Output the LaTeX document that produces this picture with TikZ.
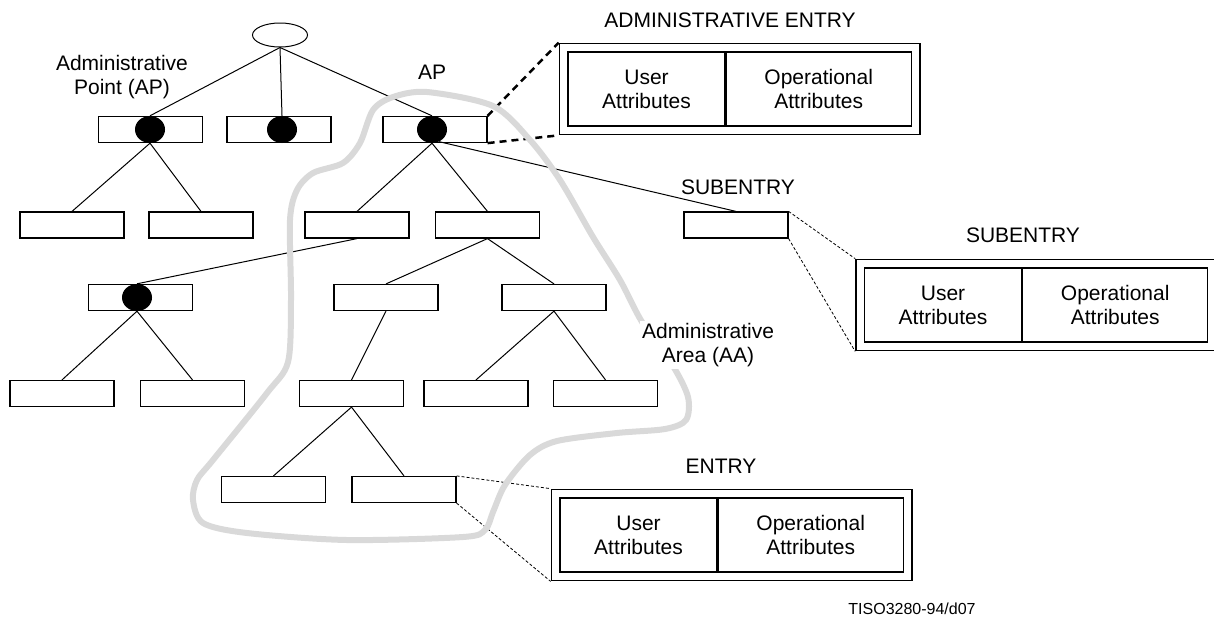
\documentclass[tikz,border=0pt]{standalone}
\usepackage{fontspec}
\setmainfont{Liberation Sans}
\usetikzlibrary{shapes.geometric,fit}
\definecolor{areagray}{RGB}{217,217,217}

\begin{document}
\begin{tikzpicture}[x=1pt, y=-1pt,
    every node/.style={font=\fontsize{21}{24}\selectfont},
    entrybox/.style={draw, rectangle, minimum width=104pt, minimum height=26pt, line width=1.2pt, inner sep=0pt},
    apdot/.style={fill=black, ellipse, minimum width=30pt, minimum height=27pt, inner sep=0pt},
    link/.style={line width=1pt},
    cellbox/.style={draw, rectangle, line width=1.2pt, minimum height=74pt, align=center, inner sep=0pt},
    framebox/.style={draw, rectangle, line width=1.5pt, inner sep=8pt},
    zoomline/.style={line width=2.5pt, dash pattern=on 7pt off 5pt},
    detailline/.style={line width=0.8pt, dash pattern=on 3pt off 2pt},
    arealine/.style={draw=areagray, line width=6pt}
]
    %--------------------%
    % Parameters
    %--------------------%
    \def\cellleft{157pt}
    \def\cellright{185pt}

    \useasboundingbox (0,0) rectangle (1214,619);

    %--------------------%
    % Root and Level 1
    %--------------------%
    \node[draw, ellipse, minimum width=55pt, minimum height=24pt, line width=1pt] (root) at (280,35) {};

    \node[entrybox] (apA) at (150.5,129.5) {};
    \node[entrybox] (apB) at (279,129.5) {};
    \node[entrybox] (apC) at (435,129.5) {};
    \node[apdot] (dotA) at (150,129.5) {};
    \node[apdot] (dotB) at (282,129.5) {};
    \node[apdot] (dotC) at (432,129.5) {};

    %--------------------%
    % Level 2
    %--------------------%
    \node[entrybox] (eA1) at (72,225) {};
    \node[entrybox] (eA2) at (201,225) {};
    \node[entrybox] (eC1) at (357,225) {};
    \node[entrybox] (eC2) at (487.5,225) {};
    \node[entrybox] (sub) at (736,225) {};

    %--------------------%
    % Level 3
    %--------------------%
    \node[entrybox] (apD) at (140.5,297.5) {};
    \node[apdot] (dotD) at (137,297.5) {};
    \node[entrybox] (eC21) at (386,297.5) {};
    \node[entrybox] (eC22) at (554,297.5) {};

    %--------------------%
    % Level 4 and 5
    %--------------------%
    \node[entrybox] (eD1) at (62,393.5) {};
    \node[entrybox] (eD2) at (192.5,393.5) {};
    \node[entrybox] (eX1) at (351.5,393.5) {};
    \node[entrybox] (eX2) at (476,393.5) {};
    \node[entrybox] (eX3) at (605.5,393.5) {};

    \node[entrybox] (eY1) at (273.5,489.5) {};
    \node[entrybox] (eY2) at (404,489.5) {};

    %--------------------%
    % Connections
    %--------------------%
    \draw[link] (root.south) -- (dotA.north);
    \draw[link] (root.south) -- (dotB.north);
    \draw[link] (root.south) -- (dotC.north);
    \draw[link] (dotA.south) -- (eA1.north);
    \draw[link] (dotA.south) -- (eA2.north);
    \draw[link] (dotC.south) -- (eC1.north);
    \draw[link] (dotC.south) -- (eC2.north);
    \draw[link] (dotC.-60) -- (sub.north);
    \draw[link] (eC1.south) -- (dotD.north);
    \draw[link] (eC2.south) -- (eC21.north);
    \draw[link] (eC2.south) -- (eC22.north);
    \draw[link] (dotD.south) -- (eD1.north);
    \draw[link] (dotD.south) -- (eD2.north);
    \draw[link] (eC21.south) -- (eX1.north);
    \draw[link] (eC22.south) -- (eX2.north);
    \draw[link] (eC22.south) -- (eX3.north);
    \draw[link] (eX1.south) -- (eY1.north);
    \draw[link] (eX1.south) -- (eY2.north);

    %--------------------%
    % Entry Details
    %--------------------%
    \node[cellbox, minimum width=\cellleft] (adminUser) at (646.5,89) {User\\Attributes};
    \node[cellbox, minimum width=\cellright, anchor=west] (adminOp) at (adminUser.east) {Operational\\Attributes};
    \node[framebox, fit=(adminUser)(adminOp)] (adminFrame) {};

    \node[cellbox, minimum width=\cellleft] (subUser) at (943,305) {User\\Attributes};
    \node[cellbox, minimum width=\cellright, anchor=west] (subOp) at (subUser.east) {Operational\\Attributes};
    \node[framebox, fit=(subUser)(subOp)] (subFrame) {};

    \node[cellbox, minimum width=\cellleft] (entUser) at (638.5,535) {User\\Attributes};
    \node[cellbox, minimum width=\cellright, anchor=west] (entOp) at (entUser.east) {Operational\\Attributes};
    \node[framebox, fit=(entUser)(entOp)] (entFrame) {};

    \draw[zoomline] (apC.north east) -- (adminFrame.north west);
    \draw[zoomline] (apC.south east) -- (adminFrame.south west);
    \draw[detailline] (sub.north east) -- (subFrame.north west);
    \draw[detailline] (sub.south east) -- (subFrame.south west);
    \draw[detailline] (eY2.north east) -- (entFrame.north west);
    \draw[detailline] (eY2.south east) -- (entFrame.south west);

    %--------------------%
    % Administrative Area
    %--------------------%
    \draw[arealine] plot[smooth cycle, tension=0.5] coordinates {
        (427,92) (493,106) (530,140) (560,180) (593,237) (620,280) (642,322)
        (673,366) (688,397) (686,420) (665,429) (617,433) (557,441) (530,455)
        (505,485) (493,512) (485,530) (463,537) (347,540) (247,533) (203,523)
        (193,500) (197,480) (213,460) (267,393) (288,362) (291,300) (290,220)
        (297,190) (313,173) (343,163) (360,143) (373,110) (393,97)};

    %--------------------%
    % Labels
    %--------------------%
    \node[align=center] (apLabel) at (122,77) {Administrative\\Point (AP)};
    \node (apTag) at (432,72) {AP};
    \node (adminTitle) at (730,20) {ADMINISTRATIVE ENTRY};
    \node (subTag) at (738,187) {SUBENTRY};
    \node (subTitle) at (1023,235) {SUBENTRY};
    \node (entTitle) at (721,466) {ENTRY};
    \node[fill=white, align=center, inner sep=2pt] (aaLabel) at (708,345) {Administrative\\Area (AA)};
    \node[font=\fontsize{16}{19}\selectfont] (figId) at (912,609) {TISO3280-94/d07};

\end{tikzpicture}
\end{document}
